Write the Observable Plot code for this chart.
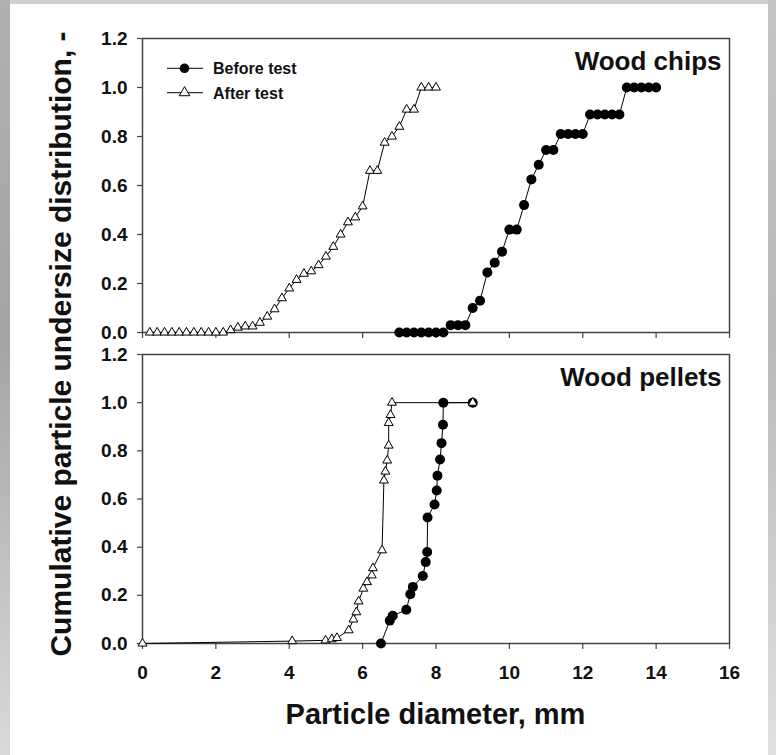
<!DOCTYPE html>
<html>
<head>
<meta charset="utf-8">
<script src="https://cdn.jsdelivr.net/npm/d3@7"></script>
<script src="https://cdn.jsdelivr.net/npm/@observablehq/plot@0.6"></script>
<style>
html, body { margin: 0; padding: 0; background: #fff; overflow: hidden; }
#page { position: relative; width: 776px; height: 755px; background: #fff;
  font-family: "Liberation Sans", Arial, sans-serif; color: #111; }
.abs { position: absolute; }
.title { position: absolute; white-space: nowrap; font-weight: bold; line-height: 1;
  transform: translate(-50%, -50%); }
</style>
</head>
<body>
<div id="page"></div>
<script>
// ---------- data ----------
const seriesNames = ["Before test", "After test"];
const panelNames = ["Wood chips", "Wood pellets"];
const xTicks = [0, 2, 4, 6, 8, 10, 12, 14, 16];
const yTicks = [0, 0.2, 0.4, 0.6, 0.8, 1.0, 1.2];
const xTitle = "Particle diameter, mm";
const yTitle = "Cumulative particle undersize distribution, -";

// Wood chips – before test
const chipsBeforeX = [7.0, 7.2, 7.4, 7.6, 7.8, 8.0, 8.2, 8.4, 8.6, 8.8, 9.0, 9.2, 9.4, 9.6, 9.8, 10.0, 10.2, 10.4,
  10.6, 10.8, 11.0, 11.2, 11.4, 11.6, 11.8, 12.0, 12.2, 12.4, 12.6, 12.8, 13.0, 13.2, 13.4, 13.6, 13.8, 14.0];
const chipsBeforeY = [0, 0, 0, 0, 0, 0, 0, 0.03, 0.03, 0.03, 0.10, 0.13, 0.245, 0.285, 0.33, 0.42, 0.42, 0.52,
  0.625, 0.685, 0.745, 0.745, 0.81, 0.81, 0.81, 0.81, 0.89, 0.89, 0.89, 0.89, 0.89, 1.0, 1.0, 1.0, 1.0, 1.0];

// Wood chips – after test
const chipsAfterX = [0.2, 0.4, 0.6, 0.8, 1.0, 1.2, 1.4, 1.6, 1.8, 2.0, 2.2, 2.4, 2.6, 2.8, 3.0, 3.2, 3.4, 3.6, 3.8, 4.0,
  4.2, 4.4, 4.6, 4.8, 5.0, 5.2, 5.4, 5.6, 5.8, 6.0, 6.2, 6.4, 6.6, 6.8, 7.0, 7.2, 7.4, 7.6, 7.8, 8.0];
const chipsAfterY = [0, 0, 0, 0, 0, 0, 0, 0, 0, 0, 0, 0.01, 0.02, 0.025, 0.025, 0.04, 0.065, 0.095, 0.14, 0.18,
  0.215, 0.24, 0.25, 0.275, 0.31, 0.35, 0.40, 0.45, 0.47, 0.515, 0.66, 0.66, 0.775, 0.80, 0.84, 0.91, 0.91, 1.0, 1.0, 1.0];

// Wood pellets – before test
const pelletsBeforeX = [6.5, 6.74, 6.82, 7.19, 7.30, 7.37, 7.64, 7.72, 7.76, 7.77, 7.96, 8.02, 8.04, 8.11, 8.15, 8.19, 8.2, 9.0];
const pelletsBeforeY = [0, 0.095, 0.115, 0.14, 0.205, 0.235, 0.28, 0.338, 0.38, 0.523, 0.577, 0.635, 0.697, 0.764, 0.832, 0.908, 1.0, 1.0];

// Wood pellets – after test
const pelletsAfterX = [0, 4.08, 4.99, 5.16, 5.30, 5.62, 5.75, 5.83, 5.89, 6.02, 6.12, 6.25, 6.28, 6.53, 6.58, 6.62, 6.67, 6.71, 6.71, 6.76, 6.80, 9.0];
const pelletsAfterY = [0, 0.01, 0.013, 0.018, 0.023, 0.055, 0.10, 0.13, 0.175, 0.228, 0.255, 0.283, 0.313, 0.387, 0.677, 0.714, 0.76, 0.822, 0.916, 0.949, 1.0, 1.0];

const zip = (xs, ys) => xs.map((x, i) => ({x, y: ys[i]}));

// ---------- layout ----------
const page = document.getElementById("page");
const FONT = "'Liberation Sans', Arial, Helvetica, sans-serif";
const AXIS = "#444";

// slide frame strips
function strip(css) { const d = document.createElement("div"); d.className = "abs"; Object.assign(d.style, css); page.appendChild(d); }
strip({left: "0px", top: "0px", width: "776px", height: "4px", background: "#cfcfcf"});
strip({left: "0px", top: "0px", width: "10px", height: "755px", background: "linear-gradient(#b0b0b0, #a4a4a4 45%, #dadada)"});
strip({left: "768px", top: "0px", width: "8px", height: "755px", background: "linear-gradient(#c4c4c4, #b9b9b9 45%, #e0e0e0)"});

function panel(name, before, after, opts) {
  const chart = Plot.plot({
    width: 776, height: opts.height,
    marginLeft: 142, marginRight: 47, marginTop: opts.marginTop, marginBottom: opts.marginBottom,
    x: {domain: [0, 16], label: null},
    y: {domain: [0, 1.2], label: null},
    style: {fontFamily: FONT, background: "transparent", overflow: "visible", color: "#111"},
    marks: [
      Plot.frame({stroke: AXIS, strokeWidth: 1.5}),
      Plot.axisY(yTicks, {tickSize: 5, tickPadding: 10, tickFormat: d3.format(".1f"),
        fontSize: 19, fontWeight: "bold", stroke: AXIS, strokeWidth: 1.2, fill: "#111", label: null}),
      Plot.axisX(xTicks, {tickSize: 6, tickPadding: 16,
        tickFormat: opts.xLabels ? d3.format("d") : () => "",
        fontSize: 19, fontWeight: "bold", stroke: AXIS, strokeWidth: 1.2, fill: "#111", label: null}),
      Plot.line(before, {x: "x", y: "y", stroke: "#000", strokeWidth: 1}),
      Plot.line(after, {x: "x", y: "y", stroke: "#000", strokeWidth: 1}),
      Plot.dot(before, {x: "x", y: "y", r: 5, fill: "#000", stroke: "none"}),
      Plot.dot(after, {x: "x", y: "y", r: 3.3, symbol: "triangle", fill: "#fff", stroke: "#000", strokeWidth: 1}),
      Plot.text([name], {text: d => d, frameAnchor: "top-right", textAnchor: "end", lineAnchor: "top",
        dx: -8, dy: 13, fontSize: 26, fontWeight: "bold", fill: "#111"})
    ]
  });
  chart.style.position = "absolute";
  chart.style.left = "0px";
  chart.style.top = opts.top + "px";
  page.appendChild(chart);
}

panel(panelNames[0], zip(chipsBeforeX, chipsBeforeY), zip(chipsAfterX, chipsAfterY),
  {top: 0, height: 340, marginTop: 38, marginBottom: 8, xLabels: false});
panel(panelNames[1], zip(pelletsBeforeX, pelletsBeforeY), zip(pelletsAfterX, pelletsAfterY),
  {top: 340, height: 415, marginTop: 14, marginBottom: 112, xLabels: true});

// axis titles
const yt = document.createElement("div");
yt.className = "title"; yt.textContent = yTitle;
Object.assign(yt.style, {left: "61px", top: "344px", fontSize: "30px",
  transform: "translate(-50%, -50%) rotate(-90deg)"});
page.appendChild(yt);

const xt = document.createElement("div");
xt.className = "title"; xt.textContent = xTitle;
Object.assign(xt.style, {left: "435.5px", top: "714px", fontSize: "29px"});
page.appendChild(xt);

// legend (top panel, upper left)
const legendItems = seriesNames.map((label, i) => ({label, symbol: i === 0 ? "circle" : "triangle"}));
const lg = d3.select(page).append("svg")
  .attr("width", 160).attr("height", 60)
  .style("position", "absolute").style("left", "160px").style("top", "52px")
  .style("overflow", "visible");
const rows = lg.selectAll("g").data(legendItems).join("g")
  .attr("transform", (d, i) => `translate(0, ${16.3 + i * 24.4})`);
rows.append("line").attr("x1", 7).attr("x2", 43).attr("stroke", "#000").attr("stroke-width", 1);
rows.append("path")
  .attr("transform", "translate(24.5, 0)")
  .attr("d", d => d.symbol === "circle"
    ? d3.symbol(d3.symbolCircle, Math.PI * 4.8 * 4.8)()
    : d3.symbol(d3.symbolTriangle, Math.PI * 3.9 * 3.9)())
  .attr("fill", d => d.symbol === "circle" ? "#000" : "#fff")
  .attr("stroke", d => d.symbol === "circle" ? "none" : "#000").attr("stroke-width", 1);
rows.append("text").attr("x", 53).attr("y", 5.8)
  .attr("font-family", FONT).attr("font-size", 16).attr("font-weight", "bold").attr("fill", "#111")
  .text(d => d.label);
</script>
</body>
</html>
